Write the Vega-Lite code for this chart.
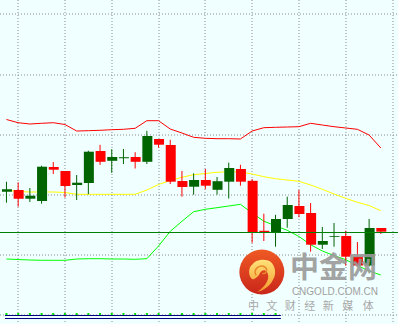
{
  "$schema": "https://vega.github.io/schema/vega-lite/v6.json",
  "width": 398,
  "height": 324,
  "padding": 0,
  "autosize": {"type": "none"},
  "background": "#f0ffff",
  "config": {
    "view": {"stroke": null},
    "axis": {"labels": false, "ticks": false, "domain": false, "grid": true, "gridColor": "#8c8c8c", "gridDash": [1, 2], "gridWidth": 1, "gridOpacity": 1, "translate": 0}
  },
  "datasets": {
    "candles": [
      {"k": 0, "open": 13.23, "high": 14.23, "low": 12.13, "close": 13.47},
      {"k": 1, "open": 13.4, "high": 14.17, "low": 11.73, "close": 12.53},
      {"k": 2, "open": 12.53, "high": 13.6, "low": 12.2, "close": 12.83},
      {"k": 3, "open": 12.3, "high": 15.83, "low": 12.03, "close": 15.73},
      {"k": 4, "open": 15.7, "high": 16.2, "low": 15.0, "close": 15.43},
      {"k": 5, "open": 15.3, "high": 15.3, "low": 12.65, "close": 13.8},
      {"k": 6, "open": 13.9, "high": 14.9, "low": 12.4, "close": 14.13},
      {"k": 7, "open": 14.1, "high": 17.33, "low": 12.98, "close": 17.23},
      {"k": 8, "open": 17.3, "high": 17.92, "low": 15.92, "close": 16.22},
      {"k": 9, "open": 16.32, "high": 17.48, "low": 15.12, "close": 16.7},
      {"k": 10, "open": 16.57, "high": 17.5, "low": 16.0, "close": 16.67},
      {"k": 11, "open": 16.7, "high": 17.18, "low": 15.55, "close": 16.22},
      {"k": 12, "open": 16.22, "high": 19.32, "low": 16.0, "close": 18.8},
      {"k": 13, "open": 18.5, "high": 18.5, "low": 17.63, "close": 17.93},
      {"k": 14, "open": 17.9, "high": 18.42, "low": 14.0, "close": 14.23},
      {"k": 15, "open": 14.3, "high": 15.3, "low": 12.73, "close": 13.7},
      {"k": 16, "open": 13.73, "high": 15.07, "low": 12.93, "close": 14.4},
      {"k": 17, "open": 14.4, "high": 15.5, "low": 13.48, "close": 13.83},
      {"k": 18, "open": 13.42, "high": 14.7, "low": 12.94, "close": 14.28},
      {"k": 19, "open": 14.23, "high": 16.13, "low": 12.55, "close": 15.6},
      {"k": 20, "open": 15.5, "high": 15.92, "low": 13.83, "close": 14.23},
      {"k": 21, "open": 14.32, "high": 14.5, "low": 8.12, "close": 9.18},
      {"k": 22, "open": 9.32, "high": 11.03, "low": 8.3, "close": 9.18},
      {"k": 23, "open": 9.18, "high": 10.92, "low": 7.73, "close": 10.5},
      {"k": 24, "open": 10.5, "high": 12.73, "low": 9.63, "close": 11.9},
      {"k": 25, "open": 11.8, "high": 13.4, "low": 10.68, "close": 11.0},
      {"k": 26, "open": 11.1, "high": 12.1, "low": 7.23, "close": 7.93},
      {"k": 27, "open": 7.93, "high": 9.7, "low": 7.5, "close": 8.3},
      {"k": 28, "open": 8.72, "high": 10.1, "low": 7.73, "close": 8.8},
      {"k": 29, "open": 8.8, "high": 9.33, "low": 5.83, "close": 6.73},
      {"k": 30, "open": 6.73, "high": 8.2, "low": 5.8, "close": 5.85},
      {"k": 31, "open": 5.85, "high": 10.5, "low": 5.75, "close": 9.6},
      {"k": 32, "open": 9.6, "high": 9.6, "low": 9.0, "close": 9.23}
    ],
    "bands": [
      {"k": 0, "upper": 20.45, "mid": 13.4, "lower": 6.5},
      {"k": 1, "upper": 20.13, "mid": 13.25, "lower": 6.45},
      {"k": 2, "upper": 20.0, "mid": 13.2, "lower": 6.4},
      {"k": 3, "upper": 20.07, "mid": 13.2, "lower": 6.37},
      {"k": 4, "upper": 20.13, "mid": 13.2, "lower": 6.37},
      {"k": 5, "upper": 19.95, "mid": 13.15, "lower": 6.37},
      {"k": 6, "upper": 19.3, "mid": 12.97, "lower": 6.5},
      {"k": 7, "upper": 19.33, "mid": 12.97, "lower": 6.53},
      {"k": 8, "upper": 19.37, "mid": 12.97, "lower": 6.53},
      {"k": 9, "upper": 19.43, "mid": 12.97, "lower": 6.5},
      {"k": 10, "upper": 19.47, "mid": 12.97, "lower": 6.5},
      {"k": 11, "upper": 19.57, "mid": 12.97, "lower": 6.47},
      {"k": 12, "upper": 20.33, "mid": 13.4, "lower": 6.53},
      {"k": 13, "upper": 20.33, "mid": 13.95, "lower": 7.8},
      {"k": 14, "upper": 19.5, "mid": 14.35, "lower": 9.27},
      {"k": 15, "upper": 19.1, "mid": 14.67, "lower": 10.27},
      {"k": 16, "upper": 18.67, "mid": 14.93, "lower": 11.23},
      {"k": 17, "upper": 18.57, "mid": 15.05, "lower": 11.47},
      {"k": 18, "upper": 18.53, "mid": 15.17, "lower": 11.63},
      {"k": 19, "upper": 18.53, "mid": 15.23, "lower": 11.8},
      {"k": 20, "upper": 18.5, "mid": 15.2, "lower": 11.97},
      {"k": 21, "upper": 19.3, "mid": 15.0, "lower": 11.1},
      {"k": 22, "upper": 19.63, "mid": 14.73, "lower": 10.28},
      {"k": 23, "upper": 19.67, "mid": 14.53, "lower": 9.82},
      {"k": 24, "upper": 19.7, "mid": 14.4, "lower": 9.37},
      {"k": 25, "upper": 19.73, "mid": 14.27, "lower": 8.75},
      {"k": 26, "upper": 20.07, "mid": 13.9, "lower": 7.93},
      {"k": 27, "upper": 19.9, "mid": 13.47, "lower": 7.3},
      {"k": 28, "upper": 19.73, "mid": 13.0, "lower": 6.85},
      {"k": 29, "upper": 19.6, "mid": 12.57, "lower": 6.43},
      {"k": 30, "upper": 19.47, "mid": 12.17, "lower": 5.85},
      {"k": 31, "upper": 18.9, "mid": 11.85, "lower": 5.3},
      {"k": 32, "upper": 17.6, "mid": 11.33, "lower": 4.9}
    ],
    "seps": [{"level": 0.85}, {"level": 0.55}],
    "tagline": [
      {"ch": "中", "k": 21.12},
      {"ch": "文", "k": 22.67},
      {"ch": "财", "k": 24.25},
      {"ch": "经", "k": 25.92},
      {"ch": "新", "k": 27.5},
      {"ch": "媒", "k": 29.17},
      {"ch": "体", "k": 30.92}
    ]
  },
  "layer": [
    {
      "data": {"name": "bands"},
      "mark": {"type": "line", "color": "#ff0000", "strokeWidth": 1},
      "encoding": {
        "x": {"field": "k", "type": "quantitative", "scale": {"domain": [-0.125, 33.0417], "nice": false, "zero": false}, "axis": {"values": [1, 5, 9, 13, 17, 21, 25, 29, 33], "title": null}},
        "y": {"field": "upper", "type": "quantitative", "scale": {"domain": [0, 32.4], "nice": false, "zero": false}, "axis": {"values": [0.95, 3.95, 6.95, 9.95, 12.95, 15.95, 18.95, 21.95, 24.95, 27.95, 30.95], "title": null}}
      }
    },
    {
      "data": {"name": "bands"},
      "mark": {"type": "line", "color": "#ffff00", "strokeWidth": 1},
      "encoding": {
        "x": {"field": "k", "type": "quantitative", "scale": {"domain": [-0.125, 33.0417], "nice": false, "zero": false}},
        "y": {"field": "mid", "type": "quantitative", "scale": {"domain": [0, 32.4], "nice": false, "zero": false}}
      }
    },
    {
      "data": {"name": "bands"},
      "mark": {"type": "line", "color": "#00ff00", "strokeWidth": 1},
      "encoding": {
        "x": {"field": "k", "type": "quantitative", "scale": {"domain": [-0.125, 33.0417], "nice": false, "zero": false}},
        "y": {"field": "lower", "type": "quantitative", "scale": {"domain": [0, 32.4], "nice": false, "zero": false}}
      }
    },
    {
      "data": {"name": "seps"},
      "mark": {"type": "rule", "color": "#000080", "strokeWidth": 1},
      "encoding": {
        "x": {"datum": -0.125, "type": "quantitative", "scale": {"domain": [-0.125, 33.0417], "nice": false, "zero": false}},
        "x2": {"datum": 23.46},
        "y": {"field": "level", "type": "quantitative", "scale": {"domain": [0, 32.4], "nice": false, "zero": false}}
      }
    },
    {
      "data": {"name": "candles"},
      "transform": [{"filter": "datum.k <= 23"}],
      "mark": {"type": "point", "shape": "square", "filled": true, "size": 4, "color": "#00e000", "opacity": 1},
      "encoding": {
        "x": {"field": "k", "type": "quantitative", "scale": {"domain": [-0.125, 33.0417], "nice": false, "zero": false}},
        "y": {"datum": 1.0, "type": "quantitative", "scale": {"domain": [0, 32.4], "nice": false, "zero": false}}
      }
    },
    {
      "data": {"name": "candles"},
      "mark": {"type": "rule", "strokeWidth": 1},
      "encoding": {
        "x": {"field": "k", "type": "quantitative", "scale": {"domain": [-0.125, 33.0417], "nice": false, "zero": false}},
        "y": {"field": "low", "type": "quantitative", "scale": {"domain": [0, 32.4], "nice": false, "zero": false}},
        "y2": {"field": "high"},
        "color": {"condition": {"test": "datum.close < datum.open", "value": "#ff0000"}, "value": "#006400"}
      }
    },
    {
      "data": {"name": "candles"},
      "mark": {"type": "bar", "size": 10, "xOffset": 0.5},
      "encoding": {
        "x": {"field": "k", "type": "quantitative", "scale": {"domain": [-0.125, 33.0417], "nice": false, "zero": false}},
        "y": {"field": "open", "type": "quantitative", "scale": {"domain": [0, 32.4], "nice": false, "zero": false}},
        "y2": {"field": "close"},
        "color": {"condition": {"test": "datum.close < datum.open", "value": "#ff0000"}, "value": "#006400"}
      }
    },
    {
      "data": {"values": [{"level": 9.15}]},
      "mark": {"type": "rule", "color": "#008000", "strokeWidth": 1},
      "encoding": {
        "y": {"field": "level", "type": "quantitative", "scale": {"domain": [0, 32.4], "nice": false, "zero": false}}
      }
    },
    {
      "data": {"values": [{"brand": "logo"}]},
      "mark": {"type": "point", "shape": "circle", "filled": true, "size": 2025, "opacity": 1, "strokeWidth": 0,
        "fill": {"gradient": "linear", "x1": 0, "y1": 0, "x2": 0, "y2": 1, "stops": [{"offset": 0, "color": "#ef5a24"}, {"offset": 1, "color": "#c9261a"}]}},
      "encoding": {
        "x": {"datum": 21.83, "type": "quantitative", "scale": {"domain": [-0.125, 33.0417], "nice": false, "zero": false}},
        "y": {"datum": 5.2, "type": "quantitative", "scale": {"domain": [0, 32.4], "nice": false, "zero": false}}
      }
    },
    {
      "data": {"values": [{"brand": "swirl"}]},
      "mark": {"type": "point", "filled": true, "size": 1600, "opacity": 1, "strokeWidth": 0,
        "shape": "M -0.45 0.42 C -0.7 0.3 -0.7 -0.2 -0.45 -0.35 C -0.3 -0.6 0.3 -0.65 0.5 -0.4 C 0.7 -0.15 0.72 0.2 0.55 0.45 C 0.4 0.75 0.1 0.95 -0.22 1.05 C 0.05 0.85 0.3 0.6 0.32 0.3 C 0.33 0.05 0.15 -0.1 0.0 0.0 C -0.15 0.1 -0.1 0.3 -0.45 0.42 Z",
        "fill": {"gradient": "linear", "x1": 0, "y1": 0, "x2": 0, "y2": 1, "stops": [{"offset": 0, "color": "#ffe27a"}, {"offset": 1, "color": "#f59a2c"}]}},
      "encoding": {
        "x": {"datum": 21.83, "type": "quantitative", "scale": {"domain": [-0.125, 33.0417], "nice": false, "zero": false}},
        "y": {"datum": 5.3, "type": "quantitative", "scale": {"domain": [0, 32.4], "nice": false, "zero": false}}
      }
    },
    {
      "data": {"values": [{"brand": "curl"}]},
      "mark": {"type": "point", "filled": false, "size": 1600, "opacity": 1, "strokeWidth": 1.5, "stroke": "#e8892a", "strokeCap": "round",
        "shape": "M -0.3 0.2 C -0.45 -0.1 -0.1 -0.35 0.15 -0.2 C 0.32 -0.08 0.22 0.16 0.05 0.12"},
      "encoding": {
        "x": {"datum": 21.83, "type": "quantitative", "scale": {"domain": [-0.125, 33.0417], "nice": false, "zero": false}},
        "y": {"datum": 5.3, "type": "quantitative", "scale": {"domain": [0, 32.4], "nice": false, "zero": false}}
      }
    },
    {
      "data": {"values": [{"brand": "中金网"}]},
      "mark": {"type": "text", "font": "Noto Sans CJK SC", "fontWeight": "bold", "fontSize": 29, "color": "#9a9a9a", "opacity": 0.9, "align": "center", "baseline": "middle"},
      "encoding": {
        "text": {"field": "brand"},
        "x": {"datum": 27.96, "type": "quantitative", "scale": {"domain": [-0.125, 33.0417], "nice": false, "zero": false}},
        "y": {"datum": 5.5, "type": "quantitative", "scale": {"domain": [0, 32.4], "nice": false, "zero": false}}
      }
    },
    {
      "data": {"values": [{"brand": "CNGOLD.COM.CN"}]},
      "mark": {"type": "text", "font": "Liberation Sans", "fontSize": 10, "color": "#a0a0a0", "align": "center", "baseline": "middle"},
      "encoding": {
        "text": {"field": "brand"},
        "x": {"datum": 28.08, "type": "quantitative", "scale": {"domain": [-0.125, 33.0417], "nice": false, "zero": false}},
        "y": {"datum": 3.2, "type": "quantitative", "scale": {"domain": [0, 32.4], "nice": false, "zero": false}}
      }
    },
    {
      "data": {"name": "tagline"},
      "mark": {"type": "text", "font": "Noto Sans CJK SC", "fontSize": 11, "color": "#a8a8a8", "align": "center", "baseline": "middle"},
      "encoding": {
        "text": {"field": "ch"},
        "x": {"field": "k", "type": "quantitative", "scale": {"domain": [-0.125, 33.0417], "nice": false, "zero": false}},
        "y": {"datum": 1.75, "type": "quantitative", "scale": {"domain": [0, 32.4], "nice": false, "zero": false}}
      }
    }
  ]
}
